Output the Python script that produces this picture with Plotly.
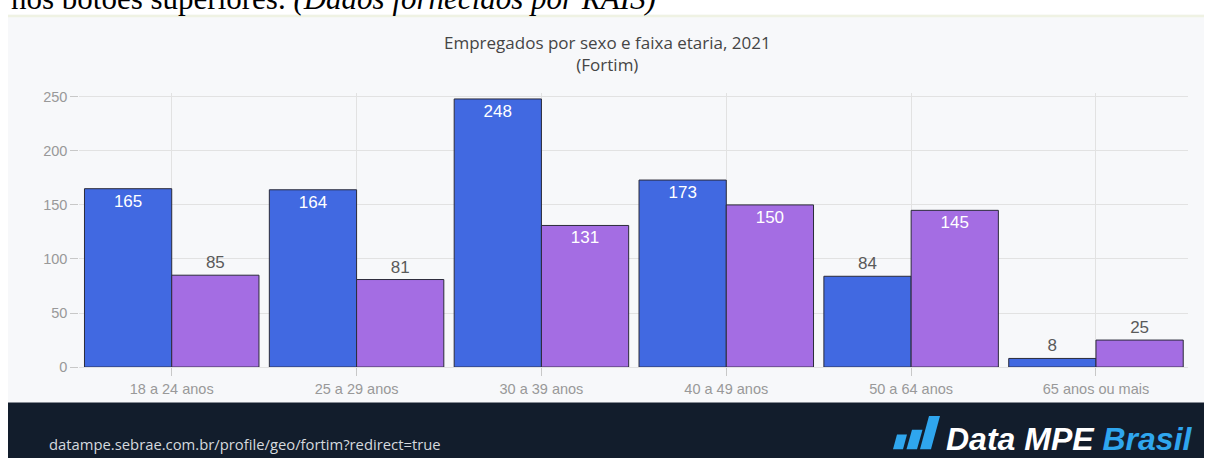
import plotly.graph_objects as go

W, H = 1205, 466

categories = ["18 a 24 anos", "25 a 29 anos", "30 a 39 anos",
              "40 a 49 anos", "50 a 64 anos", "65 anos ou mais"]
masculino = [165, 164, 248, 173, 84, 8]
feminino = [85, 81, 131, 150, 145, 25]
series_names = ["Masculino", "Feminino"]
y_ticks = [0, 50, 100, 150, 200, 250]

title_text = "Empregados por sexo e faixa etaria, 2021<br>(Fortim)"
footer_url = "datampe.sebrae.com.br/profile/geo/fortim?redirect=true"
top_text = "nos botões superiores. <i>(Dados fornecidos por RAIS)</i>"

BLUE = "#4169e1"
PURPLE = "#a46de3"


def px_x(x):
    return x / W


def px_y(y):
    return 1 - y / H


def text_pos(vals):
    return ["inside" if v >= 100 else "outside" for v in vals]


fig = go.Figure()
for name, vals, col in [(series_names[0], masculino, BLUE), (series_names[1], feminino, PURPLE)]:
    fig.add_trace(go.Bar(
        x=categories, y=vals, name=name,
        marker=dict(color=col, line=dict(color="#2b2b3a", width=1)),
        text=[str(v) for v in vals], textposition=text_pos(vals),
        insidetextanchor="end",
        insidetextfont=dict(family="Liberation Sans", size=17, color="white"),
        outsidetextfont=dict(family="Liberation Sans", size=17, color="#5a5a5a"),
        cliponaxis=False, constraintext="none",
    ))

shapes = [
    # chart panel
    dict(type="rect", xref="paper", yref="paper", layer="below",
         x0=px_x(8), x1=px_x(1204), y0=px_y(409), y1=px_y(11),
         fillcolor="#f7f8fa", line=dict(width=0)),
    dict(type="rect", xref="paper", yref="paper", layer="below",
         x0=px_x(8), x1=px_x(1204), y0=px_y(13.5), y1=px_y(11),
         fillcolor="#eff2e3", line=dict(width=0)),
    # footer
    dict(type="rect", xref="paper", yref="paper", layer="below",
         x0=px_x(8), x1=px_x(1204), y0=px_y(466), y1=px_y(409),
         fillcolor="#121d2c", line=dict(width=0)),
]
# logo bars (slanted)
LOGO = "#2fa6ee"
for (bx0, bx1, top, sl) in [(893, 903, 442, 4), (906.5, 917, 437, 5.5), (920, 931, 423, 9)]:
    pts = [(bx0, 457), (bx1, 457), (bx1 + sl, top), (bx0 + sl, top)]
    path = "M " + " L ".join(f"{px_x(a):.5f},{px_y(b):.5f}" for a, b in pts) + " Z"
    shapes.append(dict(type="path", xref="paper", yref="paper", path=path,
                       fillcolor=LOGO, line=dict(width=0), layer="above"))

annotations = [
    dict(text=top_text, x=px_x(9), y=px_y(-5.6), xref="paper", yref="paper",
         xanchor="left", yanchor="middle", showarrow=False,
         font=dict(family="Liberation Serif", size=31, color="black")),
    dict(text=title_text, x=px_x(607), y=px_y(51), xref="paper", yref="paper",
         xanchor="center", yanchor="middle", showarrow=False,
         font=dict(family="Open Sans", size=17, color="#454545")),
    dict(text=footer_url, x=px_x(47), y=px_y(451.5), xref="paper", yref="paper",
         xanchor="left", yanchor="middle", showarrow=False,
         font=dict(family="Open Sans", size=14.8, color="#d5d9de")),
    dict(text="<b><i>Data MPE <span style='color:%s'>Brasil</span></i></b>" % LOGO,
         x=px_x(944), y=px_y(446), xref="paper", yref="paper",
         xanchor="left", yanchor="middle", showarrow=False,
         font=dict(family="Liberation Sans", size=32, color="white")),
]

fig.update_layout(
    width=W, height=H,
    margin=dict(l=0, r=0, t=0, b=0),
    paper_bgcolor="white",
    plot_bgcolor="rgba(0,0,0,0)",
    showlegend=False,
    barmode="group", bargap=0.056, bargroupgap=0,
    shapes=shapes, annotations=annotations,
    xaxis=dict(
        domain=[px_x(79.3), px_x(1188.4)],
        showgrid=True, gridcolor="#e2e2e2", gridwidth=1,
        ticks="outside", ticklen=8, tickcolor="#c8c8c8",
        tickfont=dict(family="Liberation Sans", size=14.5, color="#999999"),
        showline=False, zeroline=False,
    ),
    yaxis=dict(
        domain=[px_y(372.7), px_y(91.7)],
        range=[0, 253.2],
        tickvals=y_ticks,
        showgrid=True, gridcolor="#e2e2e2", gridwidth=1,
        zeroline=True, zerolinecolor="#e2e2e2", zerolinewidth=1,
        ticks="outside", ticklen=8, tickcolor="#c8c8c8",
        tickfont=dict(family="Liberation Sans", size=14.5, color="#999999"),
        showline=False,
    ),
)

fig.write_html("out.html", config={"displayModeBar": False},
               post_script="document.body.style.margin='0';document.body.style.overflow='hidden';")
